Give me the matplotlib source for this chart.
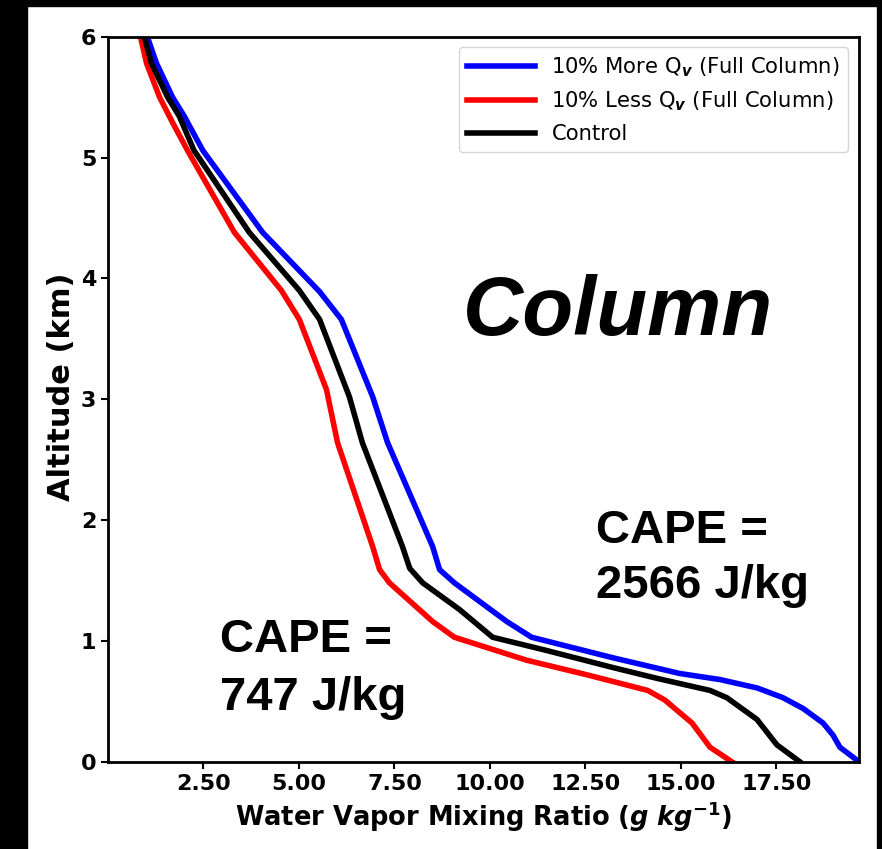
import matplotlib
matplotlib.use("Agg")
import matplotlib.pyplot as plt
from matplotlib.patches import Rectangle

# moisture profiles (x in g/kg, z in km)
more_qv = [1.03, 1.27, 1.69, 2.00, 2.48, 4.05, 5.54, 6.11, 6.93, 7.32, 8.50, 8.68, 9.07,
           10.44, 11.09, 13.22, 14.97, 16.02, 17.00, 17.67, 18.20, 18.72, 18.98, 19.16, 19.66]
more_z = [6.00, 5.78, 5.50, 5.34, 5.06, 4.38, 3.89, 3.66, 3.02, 2.64, 1.78, 1.59, 1.48,
          1.16, 1.03, 0.86, 0.73, 0.68, 0.61, 0.53, 0.44, 0.32, 0.22, 0.12, 0.00]

less_qv = [0.85, 1.01, 1.35, 1.69, 2.08, 3.31, 4.54, 5.01, 5.72, 6.01, 6.93, 7.11, 7.37,
           8.50, 9.07, 10.96, 12.53, 14.13, 14.58, 15.29, 15.76, 16.33]
less_z = [6.00, 5.78, 5.50, 5.29, 5.06, 4.38, 3.90, 3.66, 3.08, 2.64, 1.78, 1.59, 1.48,
          1.16, 1.03, 0.84, 0.72, 0.59, 0.51, 0.32, 0.12, 0.00]

ctrl_qv = [0.95, 1.14, 1.56, 1.87, 2.25, 3.70, 5.01, 5.54, 6.32, 6.66, 7.71, 7.90, 8.24,
           9.20, 10.07, 11.49, 13.21, 14.37, 15.76, 16.20, 16.99, 17.51, 18.11]
ctrl_z = [6.00, 5.78, 5.50, 5.34, 5.06, 4.38, 3.90, 3.66, 3.02, 2.64, 1.78, 1.60, 1.48,
          1.26, 1.03, 0.92, 0.78, 0.69, 0.59, 0.53, 0.35, 0.14, 0.00]

xticks = [2.5, 5.0, 7.5, 10.0, 12.5, 15.0, 17.5]
yticks = [0, 1, 2, 3, 4, 5, 6]
cape_column = "2566 J/kg"
cape_control = "747 J/kg"

fig = plt.figure(figsize=(8.82, 8.49), dpi=100)
# black frame pieces around the screenshot
fig.patches.append(Rectangle((0, 0), 0.0306, 1, transform=fig.transFigure, color="black", zorder=-1))
fig.patches.append(Rectangle((0, 0.9929), 1, 0.0071, transform=fig.transFigure, color="black", zorder=-1))
fig.patches.append(Rectangle((0.9943, 0), 0.0057, 1, transform=fig.transFigure, color="black", zorder=-1))

ax = fig.add_axes([0.1224, 0.1028, 0.8515, 0.854])

ax.plot(more_qv, more_z, color="blue", lw=4, label=r"10% More Q$_{\mathbfit{v}}$ (Full Column)")
ax.plot(less_qv, less_z, color="red", lw=4, label=r"10% Less Q$_{\mathbfit{v}}$ (Full Column)")
ax.plot(ctrl_qv, ctrl_z, color="black", lw=4, label="Control")

ax.set_xlim(0, max(more_qv))
ax.set_ylim(0, 6)
ax.set_xticks(xticks)
ax.set_xticklabels(["%.2f" % v for v in xticks])
ax.set_yticks(yticks)
ax.tick_params(labelsize=16, width=1.5, length=5)
for lab in ax.get_xticklabels() + ax.get_yticklabels():
    lab.set_fontweight("bold")
for s in ax.spines.values():
    s.set_linewidth(2)

ax.set_xlabel(r"Water Vapor Mixing Ratio ($\mathbfit{g}\ \mathbfit{kg}^{\mathbf{-1}}$)",
              fontsize=18.5, fontweight="bold")
ax.set_ylabel("Altitude (km)", fontsize=22, fontweight="bold")
ax.yaxis.set_label_coords(-0.042, 0.517)

ax.legend(loc="upper right", fontsize=15.2, handlelength=3.2)

ax.text(0.679, 0.588, "Column", transform=ax.transAxes, ha="center", va="baseline",
        fontsize=60, fontweight="bold", fontstyle="italic", family="Liberation Sans")
ax.text(0.650, 0.301, "CAPE =", transform=ax.transAxes, ha="left", va="baseline",
        fontsize=34, fontweight="bold", family="Liberation Sans")
ax.text(0.650, 0.226, cape_column, transform=ax.transAxes, ha="left", va="baseline",
        fontsize=34, fontweight="bold", family="Liberation Sans")
ax.text(0.149, 0.151, "CAPE =", transform=ax.transAxes, ha="left", va="baseline",
        fontsize=34, fontweight="bold", family="Liberation Sans")
ax.text(0.149, 0.072, cape_control, transform=ax.transAxes, ha="left", va="baseline",
        fontsize=34, fontweight="bold", family="Liberation Sans")

fig.savefig("out.png", dpi=100)
